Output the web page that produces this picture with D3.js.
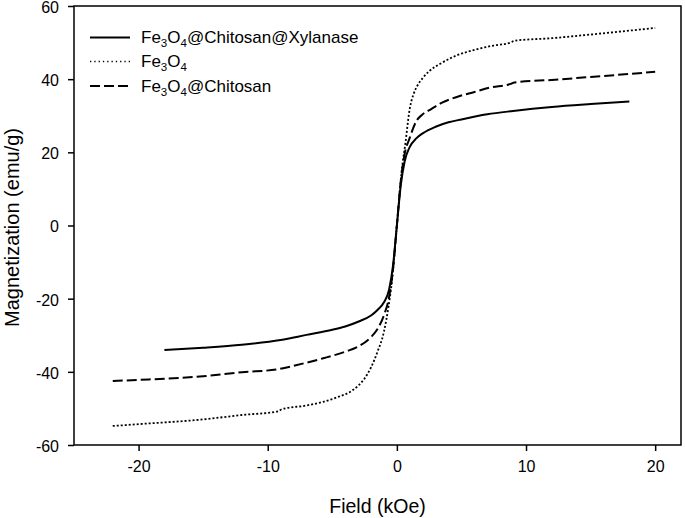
<!DOCTYPE html>
<html>
<head>
<meta charset="utf-8">
<script src="https://cdn.jsdelivr.net/npm/d3@7"></script>
<style>
  html, body { margin: 0; padding: 0; background: #fff; }
  svg { display: block; font-family: "Liberation Sans", Arial, sans-serif; }
</style>
</head>
<body>
<svg id="chart" width="685" height="518"></svg>
<script>
// ---- data ----
const xTicks = [-20, -10, 0, 10, 20];
const yTicks = [-60, -40, -20, 0, 20, 40, 60];

const xylanaseH = [-18, -15, -12, -9, -7, -5, -4, -3, -2, -1.5, -1, -0.6, -0.3, 0, 0.3, 0.6, 1, 1.5, 2, 3, 4, 5, 7, 9, 12, 15, 18];
const xylanaseM = [-34.0, -33.4, -32.6, -31.3, -29.9, -28.5, -27.6, -26.3, -24.6, -23.1, -21.0, -17.5, -11, 0, 11, 17.5, 21.5, 23.8, 25.2, 27.0, 28.2, 29.0, 30.4, 31.3, 32.4, 33.2, 33.9];

const fe3o4H = [-22, -20, -15, -12, -9.2, -8.9, -7, -5.7, -4.5, -3.5, -3, -2.5, -2, -1.5, -1, -0.65, -0.4, 0, 0.4, 0.65, 1, 1.3, 1.6, 2, 2.5, 3.4, 4.5, 6, 7.5, 8.8, 9.1, 12, 15, 20];
const fe3o4M = [-54.8, -54.3, -53.0, -51.8, -50.8, -50.2, -49.2, -48.2, -46.8, -45.2, -43.8, -41.8, -38.8, -34.5, -29.0, -22.2, -15.8, 0, 15.8, 22.2, 32.0, 36.0, 38.3, 40.3, 42.2, 44.3, 46.3, 48.0, 49.2, 50.0, 50.5, 51.2, 52.2, 54.0];

const chitosanH = [-22, -20, -15, -12, -9.2, -8.8, -7, -5.7, -4, -3, -2, -1.5, -1, -0.6, -0.3, 0, 0.3, 0.6, 1, 1.5, 2, 2.6, 3.5, 4.7, 6, 7.2, 8.8, 9.1, 12, 15, 20];
const chitosanM = [-42.5, -42.2, -41.2, -40.1, -39.3, -39.0, -37.5, -36.3, -34.5, -33.1, -30.5, -28.3, -24.5, -19.5, -12, 0, 12, 19.5, 24.0, 28.5, 30.4, 31.7, 33.6, 35.2, 36.5, 37.7, 38.7, 39.1, 39.8, 40.6, 42.0];

// ---- layout ----
const svg = d3.select("#chart");
const L = 74, R = 681, T = 6, B = 445;

const x = d3.scaleLinear().domain([-25, 22]).range([L, R]);
const y = d3.scaleLinear().domain([-60, 60]).range([B, T]);

const series = [
  { H: xylanaseH, M: xylanaseM, dash: null, width: 2, legDash: null },
  { H: fe3o4H, M: fe3o4M, dash: "2,2", width: 1.8, legDash: "1.3,3" },
  { H: chitosanH, M: chitosanM, dash: "10,4", width: 2, legDash: "10,4" }
];

const line = d3.line()
  .x(d => x(d[0]))
  .y(d => y(d[1]))
  .curve(d3.curveMonotoneX);

series.forEach(s => {
  const pts = s.H.map((h, i) => [h, s.M[i]]);
  svg.append("path")
    .attr("d", line(pts))
    .attr("fill", "none")
    .attr("stroke", "#000")
    .attr("stroke-width", s.width)
    .attr("stroke-dasharray", s.dash);
});

// frame
svg.append("rect")
  .attr("x", L).attr("y", T)
  .attr("width", R - L).attr("height", B - T)
  .attr("fill", "none").attr("stroke", "#000").attr("stroke-width", 1.5);

// axes
const fmt = d => String(d);
const xAxis = d3.axisBottom(x).tickValues(xTicks).tickFormat(fmt).tickSize(6).tickPadding(10).tickSizeOuter(0);
const yAxis = d3.axisLeft(y).tickValues(yTicks).tickFormat(fmt).tickSize(6).tickPadding(9).tickSizeOuter(0);

const gx = svg.append("g").attr("transform", `translate(0,${B})`).call(xAxis);
const gy = svg.append("g").attr("transform", `translate(${L},0)`).call(yAxis);
[gx, gy].forEach(g => {
  g.select(".domain").remove();
  g.selectAll(".tick line").attr("stroke", "#000").attr("stroke-width", 1.5);
  g.selectAll(".tick text").attr("fill", "#000")
    .style("font-size", "16px")
    .style("font-family", '"Liberation Sans", Arial, sans-serif');
});
gy.selectAll(".tick text").attr("dy", "0.4em");

// axis titles
svg.append("text")
  .attr("x", (L + R) / 2).attr("y", 513)
  .attr("text-anchor", "middle")
  .style("font-size", "19.5px")
  .text("Field (kOe)");

svg.append("text")
  .attr("transform", `translate(19,${(T + B) / 2 + 2}) rotate(-90)`)
  .attr("text-anchor", "middle")
  .style("font-size", "20px")
  .text("Magnetization (emu/g)");

// legend
const legRows = [37.5, 61.5, 86];
const legendLabels = [
  [["Fe", 0], ["3", 1], ["O", 0], ["4", 1], ["@Chitosan@Xylanase", 0]],
  [["Fe", 0], ["3", 1], ["O", 0], ["4", 1]],
  [["Fe", 0], ["3", 1], ["O", 0], ["4", 1], ["@Chitosan", 0]]
];
legendLabels.forEach((parts, i) => {
  const yy = legRows[i];
  svg.append("line")
    .attr("x1", 90).attr("x2", 130).attr("y1", yy).attr("y2", yy)
    .attr("stroke", "#000")
    .attr("stroke-width", i === 1 ? 1.4 : 2)
    .attr("stroke-dasharray", series[i].legDash);
  const t = svg.append("text")
    .attr("x", 141).attr("y", yy + 5.5)
    .style("font-size", "17px");
  parts.forEach(([s, sub], k) => {
    t.append("tspan")
      .attr("dy", sub ? 4 : (k > 0 ? -4 : 0))
      .style("font-size", sub ? "11.5px" : "17px")
      .text(s);
  });
});
</script>
</body>
</html>
